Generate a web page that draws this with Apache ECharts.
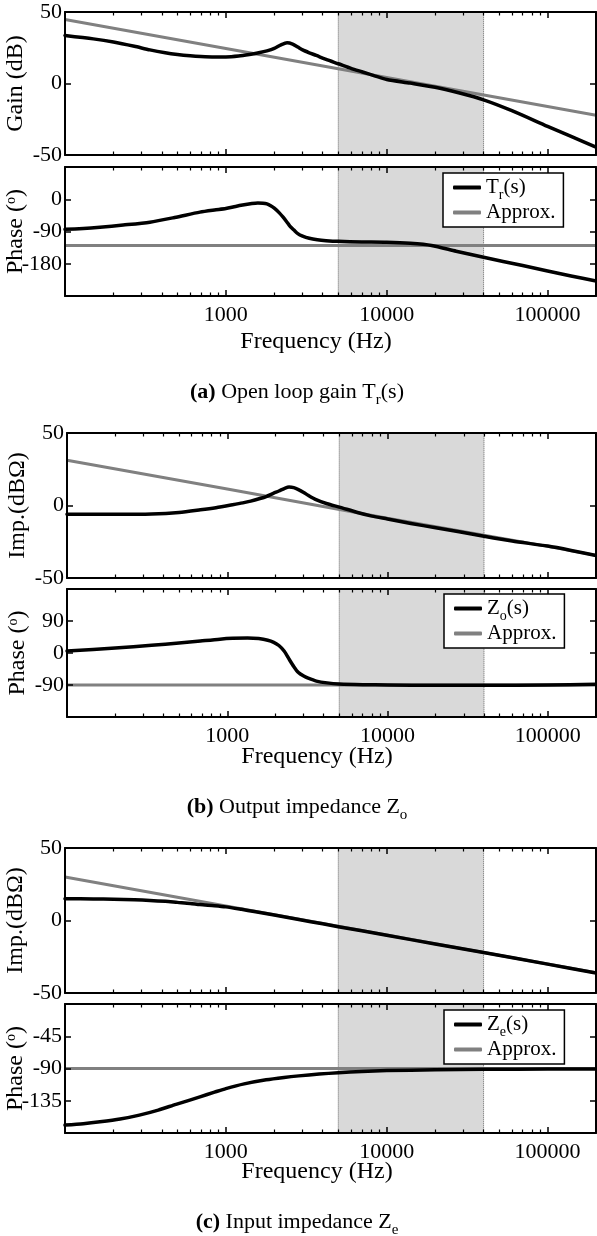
<!DOCTYPE html>
<html><head><meta charset="utf-8">
<script src="https://cdn.jsdelivr.net/npm/echarts@6/dist/echarts.min.js"></script>
<style>html,body{margin:0;padding:0;background:#fff}#c{width:597px;height:1236px}</style>
</head><body><div id="c"></div>
<script>
// ---------- data ----------
const xMin = 100, xMax = 200000;
const majorTicks = [100, 1000, 10000, 100000];
const minorTicks = [200,300,400,500,600,700,800,900,2000,3000,4000,5000,6000,7000,8000,9000,20000,30000,40000,50000,60000,70000,80000,90000,200000];
const xLabels = [1000, 10000, 100000];
const shadeBand = [5000, 40000];

// (a) open loop gain Tr(s)
const aGainFreq = [100,150,200,270,337,420,500,600,700,850,1000,1200,1400,1600,1800,2000,2200,2400,2600,2800,3000,3300,3650,4200,5000,6000,7000,8500,10000,14000,20000,28000,40000,60000,100000,140000,200000];
const aGainVal  = [33.6,31.2,29,26,23.5,21.5,20.3,19.4,18.9,18.6,18.6,19.2,20.3,21.5,22.8,24.5,27,28.5,27.6,25.5,23.5,21.5,19.6,16.8,13.8,10.6,8.2,5.2,2.8,0.3,-2.6,-6.5,-11.4,-19,-30,-37,-44.5];
const aGainApproxFreq = [100,1000,10000,100000,200000];
const aGainApproxVal  = [44.8,24.5,4.2,-16.1,-22.2];
const aPhaseFreq = [100,130,165,230,337,480,690,850,1000,1150,1300,1450,1580,1700,1800,1900,2000,2150,2270,2400,2500,2650,2800,3000,3300,3700,4200,5000,7000,10000,14000,19000,27000,40000,70000,100000,140000,200000];
const aPhaseVal  = [-84,-81.5,-78,-72,-64,-51,-36,-30,-26,-20,-15.5,-12,-10.5,-11,-13,-18,-25,-38,-50,-64,-75,-86,-96,-103,-109,-113,-115.5,-117.5,-119,-120,-123,-129,-145,-162,-185,-200,-214,-228];
const aPhaseApproxFreq = [100,200000];
const aPhaseApproxVal  = [-129,-129];

// (b) output impedance Zo
const bGainFreq = [100,200,337,500,680,850,1080,1250,1400,1600,1750,1950,2100,2300,2430,2600,2780,3000,3200,3580,4200,5000,6500,8000,10000,14000,20000,28000,40000,60000,100000,140000,200000];
const bGainVal  = [-6,-6,-5.8,-4.8,-3,-1.5,0.5,1.8,3,4.8,6.2,8.5,10,12,12.7,12.3,11,9,7,4,1.2,-1.1,-4.8,-7.3,-9.3,-12.4,-15.3,-18.1,-21.2,-24.5,-28,-31,-34.5];
const bGainApproxFreq = [100,1000,10000,100000,200000];
const bGainApproxVal  = [31.2,11.4,-8.8,-28.2,-34.4];
const bPhaseFreq = [100,200,337,500,680,900,1080,1340,1570,1790,1950,2100,2270,2450,2600,2780,3000,3200,3600,4200,5000,7000,10000,20000,40000,100000,200000];
const bPhaseVal  = [5.6,14,21.6,28,33.8,39,41.2,42.2,40.5,36,30,21,5,-19.7,-38,-55,-65,-71,-79,-84,-87,-89,-90,-91,-91,-90,-88];
const bPhaseApproxFreq = [100,200000];
const bPhaseApproxVal  = [-90,-90];

// (c) input impedance Ze
const cGainFreq = [100,150,200,270,337,420,500,600,690,850,1000,1250,1500,2000,2840,4000,5000,7000,10000,20000,40000,100000,200000];
const cGainVal  = [15,14.9,14.7,14.3,13.8,13.2,12.5,11.8,11,10.2,9.4,7.7,6.2,3.8,0.7,-2.3,-4.3,-7.1,-10.2,-16.2,-22.1,-30.1,-36.2];
const cGainApproxFreq = [100,1000,10000,100000,200000];
const cGainApproxVal  = [30,10,-10,-30,-36];
const cPhaseFreq = [100,130,165,220,290,380,490,590,690,850,1000,1300,1780,2300,2840,3800,5000,7000,10000,20000,40000,100000,200000];
const cPhaseVal  = [-169,-167,-164.4,-160.5,-155,-148,-140,-134.5,-129.5,-123,-118,-111.5,-105.8,-102.5,-100.3,-97.8,-95.9,-94.1,-92.9,-91.8,-91.2,-90.8,-90.6];
const cPhaseApproxFreq = [100,200000];
const cPhaseApproxVal  = [-90,-90];

// ---------- chart ----------
const FONT = 'Liberation Serif';
const zip = (f, v) => f.map((x, i) => [x, v[i]]);

const grids = [
  {left:65, top:12,  width:531, height:143},
  {left:65, top:167, width:531, height:129},
  {left:67, top:433, width:529, height:145},
  {left:67, top:589, width:529, height:128},
  {left:65, top:848, width:531, height:145},
  {left:65, top:1004,width:531, height:129}
].map(g => Object.assign(g, {containLabel:false, outerBoundsMode:'none'}));

const yDefs = [
  {min:-50, max:50, interval:50, name:'Gain (dB)', edge:true},
  {min:-270, max:90, interval:90, name:'Phase ({sup|o})', edge:false},
  {min:-50, max:50, interval:50, name:'Imp.(dBΩ)', edge:true},
  {min:-180, max:180, interval:90, name:'Phase ({sup|o})', edge:false},
  {min:-50, max:50, interval:50, name:'Imp.(dBΩ)', edge:true},
  {min:-180, max:0, interval:45, name:'Phase ({sup|o})', edge:false}
];

const axisLine = {show:true, onZero:false, lineStyle:{color:'#000', width:2}};
const xAxes = [], yAxes = [];
grids.forEach((g, gi) => {
  const isPhase = gi % 2 === 1;
  ['bottom','top'].forEach(pos => {
    xAxes.push({
      type:'log', logBase:10, gridIndex:gi, position:pos, min:xMin, max:xMax, z:10,
      axisLine: axisLine,
      axisTick:{show:true, inside:true, length:6, customValues: majorTicks, lineStyle:{color:'#000', width:1.5}},
      axisLabel:{show: isPhase && pos==='bottom', customValues: xLabels, margin:8,
        formatter: v => String(Math.round(v)), fontFamily:FONT, fontSize:22, color:'#000'},
      splitLine:{show:false}
    });
    xAxes.push({
      type:'log', logBase:10, gridIndex:gi, position:pos, min:xMin, max:xMax, z:10,
      axisLine:{show:false, onZero:false},
      axisTick:{show:true, inside:true, length:3.5, customValues: minorTicks, lineStyle:{color:'#000', width:1.2}},
      axisLabel:{show:false},
      splitLine:{show:false}
    });
  });
  const d = yDefs[gi];
  ['left','right'].forEach(pos => {
    yAxes.push({
      type:'value', gridIndex:gi, position:pos, min:d.min, max:d.max, interval:d.interval, z:10,
      axisLine: axisLine,
      axisTick:{show:true, inside:true, length:6, lineStyle:{color:'#000', width:1.5}},
      axisLabel:{show: pos==='left', margin:3, showMinLabel:d.edge, showMaxLabel:d.edge,
        fontFamily:FONT, fontSize:22, color:'#000'},
      splitLine:{show:false},
      name: pos==='left' ? d.name : '',
      nameLocation:'middle', nameGap:37, nameRotate:90, nameMoveOverlap:false,
      nameTextStyle:{fontFamily:FONT, fontSize:24, color:'#000',
        rich:{sup:{fontFamily:FONT, fontSize:14, color:'#000', verticalAlign:'top'}}}
    });
  });
});

const BLACK = '#000', GRAY = '#808080';
function pair(gi, blackName, grayName, bf, bv, gf, gv) {
  return [
    {type:'line', name:grayName, xAxisIndex:gi*4, yAxisIndex:gi*2, data:zip(gf, gv),
     showSymbol:false, symbol:'none', smooth:false, z:3,
     lineStyle:{color:GRAY, width:3}, itemStyle:{color:GRAY},
     markArea:{silent:true, itemStyle:{color:'#d9d9d9', borderColor:'#666', borderWidth:1, borderType:'dotted'},
       data:[[{xAxis:shadeBand[0]},{xAxis:shadeBand[1]}]]}},
    {type:'line', name:blackName, xAxisIndex:gi*4, yAxisIndex:gi*2, data:zip(bf, bv),
     showSymbol:false, symbol:'none', smooth:0.25, z:4,
     lineStyle:{color:BLACK, width:3.5, join:'round', cap:'round'}, itemStyle:{color:BLACK}}
  ];
}
const series = [].concat(
  pair(0,'Tr_g','Ap_ag', aGainFreq, aGainVal, aGainApproxFreq, aGainApproxVal),
  pair(1,'Tr','ApproxA', aPhaseFreq, aPhaseVal, aPhaseApproxFreq, aPhaseApproxVal),
  pair(2,'Zo_g','Ap_bg', bGainFreq, bGainVal, bGainApproxFreq, bGainApproxVal),
  pair(3,'Zo','ApproxB', bPhaseFreq, bPhaseVal, bPhaseApproxFreq, bPhaseApproxVal),
  pair(4,'Ze_g','Ap_cg', cGainFreq, cGainVal, cGainApproxFreq, cGainApproxVal),
  pair(5,'Ze','ApproxC', cPhaseFreq, cPhaseVal, cPhaseApproxFreq, cPhaseApproxVal)
);

const legendText = {Tr:'{t|T}{s|r}{t|(s)}', Zo:'{t|Z}{s|o}{t|(s)}', Ze:'{t|Z}{s|e}{t|(s)}'};
const richLegend = {
  t:{fontFamily:FONT, fontSize:21, color:'#000', lineHeight:19},
  s:{fontFamily:FONT, fontSize:14, color:'#000', verticalAlign:'bottom', lineHeight:19, padding:[0,0,-5,0]}
};
function legend(names, left, top) {
  return {data:names, left:left, top:top, orient:'vertical', icon:'roundRect', itemWidth:28, itemHeight:4,
    itemGap:0, selectedMode:false, backgroundColor:'#fff', borderColor:'#000', borderWidth:1.5,
    padding:[4,8,4,10], z:20,
    formatter: n => legendText[n] || '{t|Approx.}',
    textStyle:{fontFamily:FONT, fontSize:21, color:'#000', rich:richLegend}};
}

const richCap = {
  b:{fontFamily:FONT, fontSize:22, fontWeight:'bold', fill:'#000', color:'#000'},
  t:{fontFamily:FONT, fontSize:22, fill:'#000', color:'#000'},
  s:{fontFamily:FONT, fontSize:15, fill:'#000', color:'#000', verticalAlign:'bottom', padding:[0,0,-5,0]}
};
function txt(x, y, text, rich) {
  return {type:'text', x:x, y:y, z:30, style:{text:text, rich:rich, font:'24px "Liberation Serif"',
    fill:'#000', textAlign:'center', textVerticalAlign:'middle', align:'center', verticalAlign:'middle'}};
}
const graphics = [
  txt(316, 342, 'Frequency (Hz)'),
  txt(317, 757, 'Frequency (Hz)'),
  txt(317, 1172, 'Frequency (Hz)'),
  txt(297, 392, '{b|(a)}{t| Open loop gain T}{s|r}{t|(s)}', richCap),
  txt(297, 807, '{b|(b)}{t| Output impedance Z}{s|o}', richCap),
  txt(297, 1222, '{b|(c)}{t| Input impedance Z}{s|e}', richCap)
];

const chart = echarts.init(document.getElementById('c'), null, {renderer:'canvas'});
chart.setOption({
  animation:false,
  backgroundColor:'#fff',
  grid: grids,
  xAxis: xAxes,
  yAxis: yAxes,
  series: series,
  legend: [legend(['Tr','ApproxA'], 443, 173), legend(['Zo','ApproxB'], 444, 594), legend(['Ze','ApproxC'], 444, 1010)],
  graphic: graphics
});
</script></body></html>
